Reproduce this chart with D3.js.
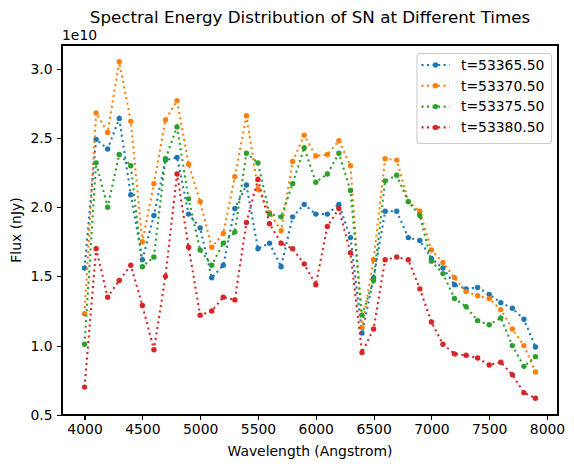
<!DOCTYPE html>
<html lang="en">
<head>
<meta charset="UTF-8">
<title>Spectral Energy Distribution of SN</title>
<script src="https://d3js.org/d3.v7.min.js"></script>
<style>
  body { margin: 0; background: white; font-family: "DejaVu Sans", sans-serif; }
  .axis path, .axis line { stroke: black; stroke-width: 1.1px; shape-rendering: crispEdges; }
  .axis text { font-family: "DejaVu Sans", sans-serif; font-size: 13.9px; fill: black; }
</style>
</head>
<body>
<div id="chart"></div>
<script>
// wavelengths (Angstrom)
var wavelengths = d3.range(4000, 8000, 100);

// flux in units of 1e10 nJy, one array per epoch
var times = ["t=53365.50", "t=53370.50", "t=53375.50", "t=53380.50"];
var flux53365 = [1.56, 2.49, 2.42, 2.64, 2.09, 1.62, 1.94, 2.34, 2.36, 1.95,
  1.85, 1.49, 1.58, 1.99, 2.16, 1.70, 1.74, 1.57, 1.93, 2.02,
  1.95, 1.95, 2.02, 1.78, 1.09, 1.49, 1.97, 1.97, 1.78, 1.76,
  1.63, 1.56, 1.44, 1.41, 1.42, 1.37, 1.31, 1.27, 1.19, 0.99];
var flux53370 = [1.23, 2.68, 2.54, 3.05, 2.62, 1.75, 2.17, 2.63, 2.77, 2.31,
  2.04, 1.71, 1.81, 2.22, 2.66, 2.13, 1.96, 1.83, 2.33, 2.52,
  2.37, 2.38, 2.48, 2.30, 1.13, 1.62, 2.35, 2.34, 2.04, 1.97,
  1.69, 1.60, 1.49, 1.39, 1.36, 1.34, 1.26, 1.12, 1.00, 0.81];
var flux53375 = [1.01, 2.32, 2.00, 2.38, 2.30, 1.57, 1.64, 2.35, 2.58, 2.06,
  1.69, 1.58, 1.74, 1.82, 2.39, 2.32, 1.95, 1.93, 2.17, 2.43,
  2.18, 2.24, 2.39, 2.12, 1.22, 1.47, 2.19, 2.23, 2.04, 1.94,
  1.61, 1.52, 1.34, 1.28, 1.18, 1.15, 1.20, 1.00, 0.85, 0.92];
var flux53380 = [0.70, 1.70, 1.35, 1.47, 1.58, 1.29, 0.97, 1.50, 2.24, 1.71,
  1.22, 1.25, 1.35, 1.33, 1.89, 2.20, 1.88, 1.74, 1.70, 1.59,
  1.44, 1.86, 1.99, 1.67, 0.95, 1.12, 1.62, 1.64, 1.62, 1.41,
  1.17, 1.01, 0.94, 0.93, 0.91, 0.86, 0.88, 0.79, 0.66, 0.62];
var colors = ["#1f77b4", "#ff7f0e", "#2ca02c", "#d62728"];
var xTicks = d3.range(4000, 8001, 500);
var yTicks = [0.5, 1.0, 1.5, 2.0, 2.5, 3.0];

var series = [flux53365, flux53370, flux53375, flux53380].map(function (vals, i) {
  return { label: times[i], color: colors[i],
    points: vals.map(function (v, j) { return { x: wavelengths[j], y: v }; }) };
});

var width = 574, height = 469;
var margin = { left: 62, right: 16, top: 45, bottom: 54 };
var iw = width - margin.left - margin.right;
var ih = height - margin.top - margin.bottom;

var svg = d3.select("#chart").append("svg")
  .attr("width", width).attr("height", height);

// matplotlib style 5% padding
var xMin = d3.min(wavelengths), xMax = d3.max(wavelengths);
var xPad = (xMax - xMin) * 0.05;
var allY = [].concat(flux53365, flux53370, flux53375, flux53380);
var yMin = d3.min(allY), yMax = d3.max(allY);
var yPad = (yMax - yMin) * 0.05;

var x = d3.scaleLinear().domain([xMin - xPad, xMax + xPad]).range([0, iw]);
var y = d3.scaleLinear().domain([yMin - yPad, yMax + yPad]).range([ih, 0]);

var g = svg.append("g").attr("transform", "translate(" + margin.left + "," + margin.top + ")");

// axes
g.append("g").attr("class", "axis").attr("transform", "translate(0," + ih + ")")
  .call(d3.axisBottom(x).tickValues(xTicks).tickSize(4.9).tickPadding(4.5).tickFormat(d3.format("d")))
  .call(function (a) { a.select(".domain").remove(); });
g.append("g").attr("class", "axis")
  .call(d3.axisLeft(y).tickValues(yTicks).tickSize(4.9).tickPadding(4.5).tickFormat(d3.format(".1f")))
  .call(function (a) { a.select(".domain").remove(); });

// lines + markers
var line = d3.line().x(function (d) { return x(d.x); }).y(function (d) { return y(d.y); });
series.forEach(function (s) {
  g.append("path").datum(s.points)
    .attr("d", line)
    .attr("fill", "none")
    .attr("stroke", s.color)
    .attr("stroke-width", 2.08)
    .attr("stroke-dasharray", "2.08 3.44");
  g.selectAll(null).data(s.points).enter().append("circle")
    .attr("cx", function (d) { return x(d.x); })
    .attr("cy", function (d) { return y(d.y); })
    .attr("r", 2.7)
    .attr("fill", s.color);
});

// frame
g.append("rect").attr("width", iw).attr("height", ih)
  .attr("fill", "none").attr("stroke", "black").attr("stroke-width", 1.1)
  .attr("shape-rendering", "crispEdges");

// legend
var lg = g.append("g").attr("transform", "translate(" + (iw - 141) + ",8.5)");
lg.append("rect").attr("width", 134.5).attr("height", 90)
  .attr("rx", 3).attr("fill", "white").attr("fill-opacity", 0.8)
  .attr("stroke", "#cccccc").attr("stroke-width", 1.1);
series.forEach(function (s, i) {
  var row = lg.append("g").attr("transform", "translate(0," + (11.5 + i * 20.8) + ")");
  row.append("line").attr("x1", 4.5).attr("x2", 32.5).attr("y1", 0).attr("y2", 0)
    .attr("stroke", s.color).attr("stroke-width", 2.08).attr("stroke-dasharray", "2.08 3.44");
  row.append("circle").attr("cx", 18.5).attr("cy", 0).attr("r", 2.7).attr("fill", s.color);
  row.append("text").attr("x", 44).attr("y", 0).attr("dy", "0.35em")
    .attr("font-size", "13.9px").text(s.label);
});

// texts
svg.append("text").attr("x", margin.left + iw / 2).attr("y", 23)
  .attr("text-anchor", "middle").attr("font-size", "16.7px")
  .text("Spectral Energy Distribution of SN at Different Times");
svg.append("text").attr("x", margin.left).attr("y", 40)
  .attr("font-size", "13.9px").text("1e10");
svg.append("text").attr("x", margin.left + iw / 2).attr("y", 456)
  .attr("text-anchor", "middle").attr("font-size", "13.9px")
  .text("Wavelength (Angstrom)");
svg.append("text")
  .attr("transform", "translate(21," + (margin.top + ih / 2) + ") rotate(-90)")
  .attr("text-anchor", "middle").attr("font-size", "13.9px")
  .text("Flux (nJy)");
</script>
</body>
</html>
